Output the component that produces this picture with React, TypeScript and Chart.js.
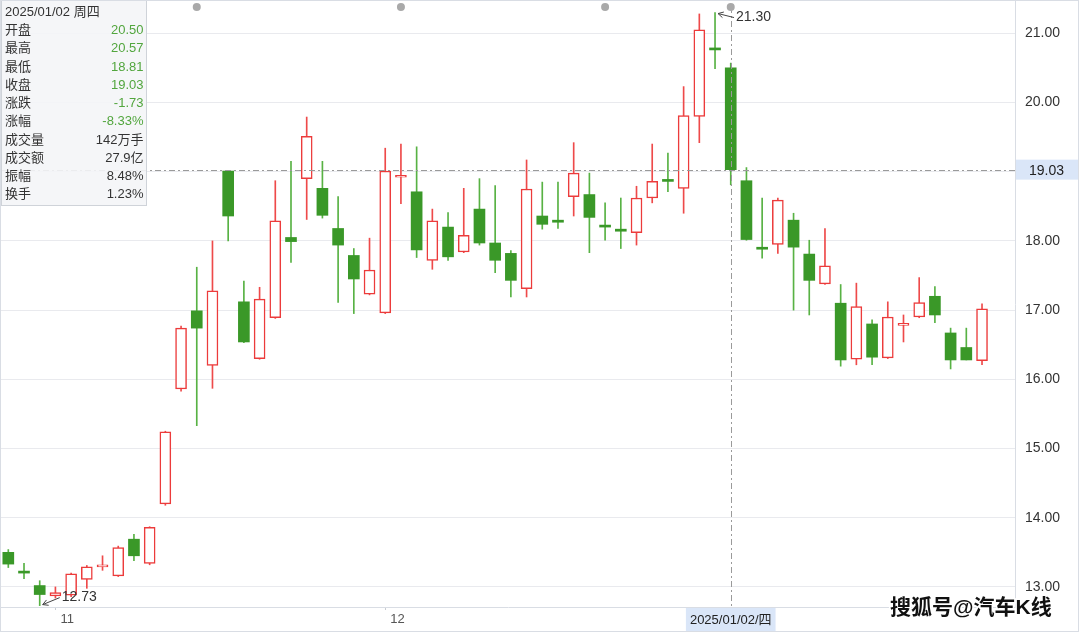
import React, { useEffect, useRef } from 'react';
import { Chart, registerables } from 'chart.js';

Chart.register(...registerables);

// ---- data (daily K line, index 0 .. 62) ----
const opens = [
  13.50, 13.22, 13.02, 12.87, 12.88, 13.11, 13.29, 13.16, 13.69, 13.34,
  14.20, 15.86, 16.99, 16.20, 19.01, 17.12, 16.30, 16.89, 18.05, 18.90,
  18.76, 18.18, 17.79, 17.23, 16.96, 18.92, 18.71, 17.72, 18.20, 17.84,
  18.46, 17.97, 17.82, 17.31, 18.36, 18.30, 18.64, 18.67, 18.22, 18.17,
  18.12, 18.62, 18.88, 18.76, 19.80, 20.78, 20.50, 18.87, 17.90, 17.95,
  18.30, 17.81, 17.38, 17.10, 16.29, 16.80, 16.31, 16.78, 16.90, 17.20,
  16.67, 16.46, 16.27,
];
const highs = [
  13.54, 13.34, 13.09, 13.00, 13.20, 13.31, 13.45, 13.59, 13.76, 13.87,
  15.25, 16.77, 17.62, 18.00, 19.02, 17.42, 17.33, 18.87, 19.15, 19.79,
  19.15, 18.64, 17.89, 18.04, 19.34, 19.40, 19.36, 18.46, 18.41, 18.76,
  18.90, 18.80, 17.86, 19.17, 18.85, 18.85, 19.42, 18.98, 18.55, 18.62,
  18.79, 19.40, 19.27, 20.23, 21.28, 21.30, 20.57, 19.06, 18.62, 18.62,
  18.40, 18.01, 18.18, 17.37, 17.39, 16.86, 17.12, 16.93, 17.47, 17.34,
  16.74, 16.74, 17.09,
];
const lows = [
  13.28, 13.12, 12.73, 12.84, 12.86, 12.98, 13.24, 13.15, 13.38, 13.32,
  14.18, 15.83, 15.33, 15.87, 18.00, 16.53, 16.29, 16.88, 17.69, 18.31,
  18.33, 17.11, 16.95, 17.22, 16.95, 18.54, 17.76, 17.59, 17.72, 17.83,
  17.94, 17.54, 17.19, 17.19, 18.17, 18.18, 18.36, 17.83, 18.01, 17.89,
  17.94, 18.55, 18.71, 18.40, 19.42, 20.49, 18.81, 18.01, 17.75, 17.82,
  17.00, 16.93, 17.37, 16.19, 16.21, 16.21, 16.30, 16.54, 16.89, 16.82,
  16.15, 16.28, 16.21,
];
const closes = [
  13.33, 13.20, 12.89, 12.92, 13.19, 13.29, 13.31, 13.57, 13.45, 13.86,
  15.24, 16.74, 16.74, 17.28, 18.36, 16.54, 17.16, 18.29, 17.99, 19.51,
  18.37, 17.94, 17.45, 17.58, 19.01, 18.94, 17.87, 18.29, 17.77, 18.08,
  17.97, 17.72, 17.43, 18.75, 18.24, 18.27, 18.98, 18.34, 18.20, 18.14,
  18.62, 18.86, 18.86, 19.81, 21.05, 20.76, 19.03, 18.02, 17.88, 18.59,
  17.91, 17.43, 17.64, 16.28, 17.05, 16.32, 16.90, 16.80, 17.11, 16.93,
  16.28, 16.28, 17.02,
];

const monthStartIdx = [3, 24];
const monthLabels = ['11', '12'];
const yTicks = [13, 14, 15, 16, 17, 18, 19, 20, 21];
const markerIdx = [12, 25, 38];
const selIdx = 46;
const selDateLabel = '2025/01/02/四';
const infoTitle = '2025/01/02 周四';
const infoLabels = ['开盘', '最高', '最低', '收盘', '涨跌', '涨幅', '成交量', '成交额', '振幅', '换手'];
const infoValues = ['20.50', '20.57', '18.81', '19.03', '-1.73', '-8.33%', '142万手', '27.9亿', '8.48%', '1.23%'];
const infoValueGreen = [true, true, true, true, true, true, false, false, false, false];
const maxIdx = 45;
const minIdx = 2;
const watermark = '搜狐号@汽车K线';

const RED = '#ec3b3b';
const RED_WICK = '#ee4a4a';
const GREEN = '#3a9828';
const GREEN_WICK = '#58b244';
const FONT = '"Liberation Sans", Arial, "Noto Sans CJK SC", sans-serif';

function drawArrow(ctx: CanvasRenderingContext2D, tx: number, ty: number, hx: number, hy: number) {
  ctx.beginPath();
  ctx.moveTo(tx, ty);
  ctx.lineTo(hx, hy);
  ctx.stroke();
  const a = Math.atan2(hy - ty, hx - tx);
  const L = 6;
  ctx.beginPath();
  ctx.moveTo(hx - L * Math.cos(a - 0.5), hy - L * Math.sin(a - 0.5));
  ctx.lineTo(hx, hy);
  ctx.lineTo(hx - L * Math.cos(a + 0.5), hy - L * Math.sin(a + 0.5));
  ctx.stroke();
}

const overlayPlugin = {
  id: 'overlay',
  afterDraw(chart: any) {
    const ctx: CanvasRenderingContext2D = chart.ctx;
    const xs = chart.scales.x;
    const ys = chart.scales.y;
    const area = chart.chartArea;
    const W = chart.width;
    const H = chart.height;
    ctx.save();

    // crosshair
    const cx = xs.getPixelForValue(selIdx);
    const cy = ys.getPixelForValue(closes[selIdx]);
    ctx.strokeStyle = '#9a9a9a';
    ctx.lineWidth = 1;
    ctx.setLineDash([6, 3, 2, 3]);
    ctx.beginPath();
    ctx.moveTo(area.left, Math.round(cy) + 0.5);
    ctx.lineTo(area.right, Math.round(cy) + 0.5);
    ctx.stroke();
    ctx.beginPath();
    ctx.moveTo(Math.round(cx) + 0.5, 7);
    ctx.lineTo(Math.round(cx) + 0.5, area.bottom);
    ctx.stroke();
    ctx.setLineDash([]);

    // top markers
    ctx.fillStyle = '#a9a9a9';
    [...markerIdx, selIdx].forEach((i) => {
      ctx.beginPath();
      ctx.arc(xs.getPixelForValue(i), 7, 4, 0, Math.PI * 2);
      ctx.fill();
    });

    // max / min annotations
    ctx.strokeStyle = '#444';
    ctx.fillStyle = '#333';
    ctx.lineWidth = 1;
    ctx.font = `14px ${FONT}`;
    ctx.textAlign = 'left';
    ctx.textBaseline = 'middle';
    {
      const hx = xs.getPixelForValue(maxIdx) + 3;
      const hy = ys.getPixelForValue(highs[maxIdx]) + 1;
      const tx = hx + 16;
      const ty = hy + 4;
      drawArrow(ctx, tx, ty, hx, hy);
      ctx.fillText(highs[maxIdx].toFixed(2), tx + 2, ty);
    }
    {
      const hx = xs.getPixelForValue(minIdx) + 3;
      const hy = ys.getPixelForValue(lows[minIdx]) - 1;
      const tx = hx + 17;
      const ty = hy - 7;
      drawArrow(ctx, tx, ty, hx, hy);
      ctx.fillText(lows[minIdx].toFixed(2), tx + 2, ty);
    }

    // right price label
    ctx.fillStyle = '#dae6f8';
    ctx.fillRect(area.right + 1, cy - 10, W - area.right - 3, 20);
    ctx.fillStyle = '#222';
    ctx.font = `14px ${FONT}`;
    ctx.textAlign = 'left';
    ctx.fillText(closes[selIdx].toFixed(2), area.right + 14, cy + 1);

    // bottom date label
    ctx.font = `13px ${FONT}`;
    const dw = ctx.measureText(selDateLabel).width + 8;
    ctx.fillStyle = '#dae6f8';
    ctx.fillRect(cx - dw / 2, area.bottom + 1, dw, H - area.bottom - 3);
    ctx.fillStyle = '#222';
    ctx.textAlign = 'center';
    ctx.fillText(selDateLabel, cx, area.bottom + 13);

    // info box
    ctx.fillStyle = 'rgba(244,245,247,0.9)';
    ctx.fillRect(2, 0, 145, 205);
    ctx.strokeStyle = '#cfd3d9';
    ctx.strokeRect(1.5, 0.5, 145, 205);
    ctx.font = `13px ${FONT}`;
    ctx.textBaseline = 'middle';
    ctx.textAlign = 'left';
    ctx.fillStyle = '#333';
    ctx.fillText(infoTitle, 5, 12.5);
    infoLabels.forEach((lab, i) => {
      const y = 30.5 + i * 18.25;
      ctx.textAlign = 'left';
      ctx.fillStyle = '#333';
      ctx.fillText(lab, 5, y);
      ctx.textAlign = 'right';
      ctx.fillStyle = infoValueGreen[i] ? '#52a63e' : '#333';
      ctx.fillText(infoValues[i], 143.5, y);
    });

    // watermark
    ctx.font = `bold 21px ${FONT}`;
    ctx.textAlign = 'left';
    ctx.textBaseline = 'middle';
    ctx.lineWidth = 3;
    ctx.strokeStyle = '#ffffff';
    ctx.strokeText(watermark, 890, 608);
    ctx.fillStyle = '#111';
    ctx.fillText(watermark, 890, 608);

    // frame
    ctx.strokeStyle = '#d9dde4';
    ctx.lineWidth = 1;
    ctx.strokeRect(0.5, 0.5, W - 2, H - 2);
    ctx.restore();
  },
};

export default function App() {
  const ref = useRef<HTMLCanvasElement | null>(null);

  useEffect(() => {
    if (!ref.current) return;
    const idx = opens.map((_, i) => i);
    const up = idx.map((i) => closes[i] >= opens[i]);
    const chart = new Chart(ref.current, {
      type: 'bar',
      data: {
        datasets: [
          {
            label: 'wick',
            data: idx.map((i) => ({ x: i, y: [lows[i], highs[i]] })) as any,
            backgroundColor: idx.map((i) => (up[i] ? RED_WICK : GREEN_WICK)),
            borderWidth: 0,
            barThickness: 1,
            grouped: false,
            order: 2,
          } as any,
          {
            label: 'body',
            data: idx.map((i) => ({ x: i, y: [opens[i], closes[i]] })) as any,
            backgroundColor: idx.map((i) => (up[i] ? '#ffffff' : GREEN)),
            borderColor: idx.map((i) => (up[i] ? RED : GREEN)),
            borderWidth: idx.map((i) => (up[i] ? 1.5 : 0)),
            borderSkipped: false,
            barThickness: 11,
            minBarLength: 2,
            grouped: false,
            order: 1,
          } as any,
        ],
      },
      options: {
        animation: false,
        responsive: false,
        devicePixelRatio: 1,
        events: [],
        layout: { padding: { left: 1, top: 1, right: 0, bottom: 0 } },
        plugins: { legend: { display: false }, tooltip: { enabled: false } },
        scales: {
          x: {
            type: 'linear',
            min: -0.465,
            max: 64.1,
            offset: false,
            afterBuildTicks: (s: any) => {
              s.ticks = monthStartIdx.map((v) => ({ value: v }));
            },
            afterFit: (s: any) => {
              s.height = 26;
              s.paddingLeft = 0;
              s.paddingRight = 0;
            },
            ticks: {
              autoSkip: false,
              maxRotation: 0,
              align: 'start',
              labelOffset: 5,
              padding: 2,
              color: '#555',
              font: { size: 13, family: FONT },
              callback: (v: any) => {
                const k = monthStartIdx.indexOf(Number(v));
                return k >= 0 ? monthLabels[k] : '';
              },
            },
            grid: { display: true, offset: false, drawOnChartArea: false, drawTicks: true, tickLength: 3, color: '#c8ccd2' },
            border: { display: true, color: '#d9dde4' },
          },
          y: {
            type: 'linear',
            position: 'right',
            min: 12.71,
            max: 21.467,
            afterBuildTicks: (s: any) => {
              s.ticks = yTicks.map((v) => ({ value: v }));
            },
            afterFit: (s: any) => {
              s.width = 65;
              s.paddingTop = 0;
              s.paddingBottom = 0;
            },
            ticks: {
              padding: 10,
              color: '#333',
              font: { size: 14, family: FONT },
              callback: (v: any) => Number(v).toFixed(2),
            },
            grid: { color: '#e9eaee', drawTicks: false },
            border: { display: true, color: '#d9dde4' },
          },
        },
      } as any,
      plugins: [overlayPlugin],
    });
    return () => chart.destroy();
  }, []);

  return (
    <div style={{ position: 'absolute', left: 0, top: 0, width: 1080, height: 633, background: '#fff' }}>
      <canvas ref={ref} width={1080} height={633} style={{ display: 'block' }} />
    </div>
  );
}
